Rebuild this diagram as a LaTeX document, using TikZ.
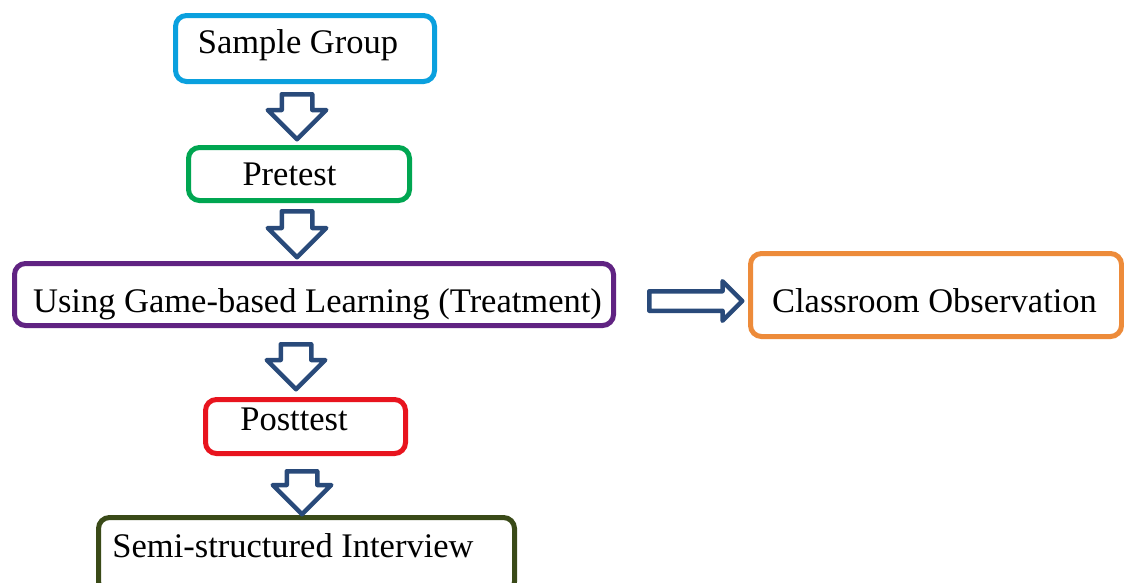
\documentclass[tikz,border=0pt]{standalone}
\usepackage{fontspec}
\setmainfont{Liberation Serif}
\usetikzlibrary{shapes.arrows}
\definecolor{cSG}{RGB}{10,160,222}
\definecolor{cPre}{RGB}{0,166,81}
\definecolor{cUse}{RGB}{96,35,130}
\definecolor{cObs}{RGB}{237,139,58}
\definecolor{cPost}{RGB}{232,20,30}
\definecolor{cSemi}{RGB}{58,74,24}
\definecolor{cArrow}{RGB}{41,74,122}
\tikzset{
  stagebox/.style={draw=#1, line width=5pt, rounded corners=11pt, fill=white,
    inner xsep=0pt, inner ysep=0pt, text depth=0pt, font=\fontsize{34.5}{40}\selectfont},
  downarrow/.style={single arrow, draw=cArrow, line width=4.5pt, line join=round,
    rotate=-90, anchor=tail, inner xsep=0pt, inner ysep=13pt, single arrow head extend=14pt,
    single arrow tip angle=90, minimum height=#1},
  rightarrow/.style={single arrow, draw=cArrow, line width=4.5pt, line join=round,
    anchor=tail, inner xsep=0pt, inner ysep=7.5pt, single arrow head extend=10pt,
    single arrow tip angle=90, minimum height=#1}
}
\begin{document}
\begin{tikzpicture}[x=1pt,y=-1pt]
\useasboundingbox (0,0) rectangle (1124,582);
\clip (0,0) rectangle (1124,582);
\fill[white] (0,0) rectangle (1124,582);

\node[stagebox=cSG, minimum width=259pt, minimum height=66pt, text height=9pt] (sg) at (305,48.5) {\hspace*{-14pt}Sample Group};
\node[stagebox=cPre, minimum width=221pt, minimum height=53pt, text height=22pt] (pre) at (299,174) {\hspace*{-19pt}Pretest};
\node[stagebox=cUse, minimum width=599pt, minimum height=62pt, text height=35pt] (use) at (314,294.5) {\hspace*{7pt}Using Game-based Learning (Treatment)};
\node[stagebox=cObs, minimum width=371pt, minimum height=83pt, text height=34pt] (obs) at (936,295) {\hspace*{-3pt}Classroom Observation};
\node[stagebox=cPost, minimum width=200pt, minimum height=54pt, text height=7pt] (post) at (305.5,426.5) {\hspace*{-23pt}Posttest};
\node[stagebox=cSemi, minimum width=416pt, minimum height=75pt, text height=4pt] (semi) at (306.5,555) {\hspace*{-27pt}Semi-structured Interview};

\node[downarrow=45pt] (a1) at (297,92) {};
\node[downarrow=46pt] (a2) at (297,209) {};
\node[downarrow=45pt] (a3) at (296,342) {};
\node[downarrow=43pt] (a4) at (302,469) {};
\node[rightarrow=93pt] (a5) at (647,301) {};
\end{tikzpicture}
\end{document}
